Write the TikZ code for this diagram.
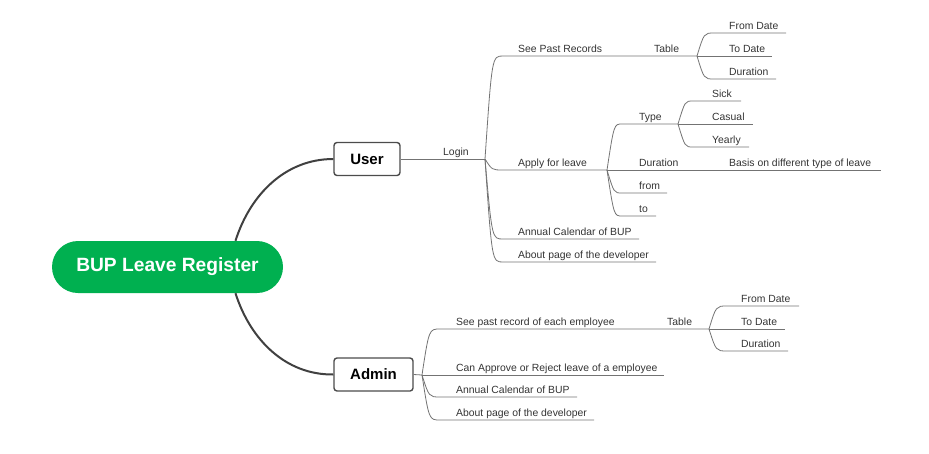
\documentclass[tikz,border=0pt]{standalone}
\usepackage{fontspec}
\setmainfont{Liberation Sans}
\usetikzlibrary{calc}

\definecolor{rootgreen}{RGB}{0,176,80}

\begin{document}
\begin{tikzpicture}[x=1pt,y=-1pt]
\tikzstyle{root}=[rectangle, rounded corners=26pt, fill=rootgreen, minimum width=231pt, minimum height=52pt, text=white, font=\fontsize{19.2}{22}\selectfont\bfseries]
\tikzstyle{topic}=[rectangle, rounded corners=3pt, draw=black!70, line width=1.4pt, fill=white, minimum height=33pt, font=\fontsize{15}{18}\selectfont\bfseries]
\tikzstyle{lbl}=[anchor=base west, inner sep=0pt, yshift=4pt, font=\fontsize{10.4}{12}\selectfont, text=black!80]
\tikzstyle{mainline}=[line width=2pt, draw=black!75]
\tikzstyle{twig}=[line width=0.8pt, draw=black!55]
\tikzstyle{twigcurve}=[to path={.. controls ($(\tikztostart |- \tikztotarget)+(7,0)$) .. (\tikztotarget)}]

  \useasboundingbox (0,0) rectangle (929,453);

  % main topics
  \node[root] (bup) at (167.5,267) {BUP Leave Register};
  \node[topic, minimum width=66pt] (user)  at (367,159)   {User};
  \node[topic, minimum width=79pt] (admin) at (373.5,374.5) {Admin};

  \draw[mainline] ([xshift=68pt]bup.north) .. controls (250,195) and (285,159) .. (user.west);
  \draw[mainline] ([xshift=68pt]bup.south) .. controls (250,339) and (285,375) .. (admin.west);

  % user branch
  \coordinate (ulog) at (485,159);
  \node[lbl] (tlogin) at (443,159) {Login};
  \draw[twig] (user.east) -- (ulog);

  \coordinate (sprs) at (503,56);
  \coordinate (ptab) at (697,56);
  \node[lbl] (tspr)  at (518,56) {See Past Records};
  \node[lbl] (tptab) at (654,56) {Table};
  \draw[twig] (ulog) to[twigcurve] (sprs) -- (ptab);

  \coordinate (pfds) at (714,33);  \coordinate (pfde) at (786,33);
  \coordinate (ptde) at (772,56);
  \coordinate (pdus) at (714,79);  \coordinate (pdue) at (776,79);
  \node[lbl] (tpfd) at (729,33) {From Date};
  \node[lbl] (tptd) at (729,56) {To Date};
  \node[lbl] (tpdu) at (729,79) {Duration};
  \draw[twig] (ptab) to[twigcurve] (pfds) -- (pfde);
  \draw[twig] (ptab) -- (ptde);
  \draw[twig] (ptab) to[twigcurve] (pdus) -- (pdue);

  \coordinate (apls) at (503,170);
  \coordinate (aply) at (607,170);
  \node[lbl] (tapl) at (518,170) {Apply for leave};
  \draw[twig] (ulog) to[twigcurve] (apls) -- (aply);

  \coordinate (typs) at (622,124);
  \coordinate (atyp) at (678,124);
  \node[lbl] (ttyp) at (639,124) {Type};
  \draw[twig] (aply) to[twigcurve] (typs) -- (atyp);

  \coordinate (sicks) at (693,101); \coordinate (sicke) at (741,101);
  \coordinate (casue) at (753,124);
  \coordinate (years) at (693,147); \coordinate (yeare) at (749,147);
  \node[lbl] (tsick) at (712,101) {Sick};
  \node[lbl] (tcasu) at (712,124) {Casual};
  \node[lbl] (tyear) at (712,147) {Yearly};
  \draw[twig] (atyp) to[twigcurve] (sicks) -- (sicke);
  \draw[twig] (atyp) -- (casue);
  \draw[twig] (atyp) to[twigcurve] (years) -- (yeare);

  \coordinate (dure) at (881,170);
  \node[lbl] (tdur)   at (639,170) {Duration};
  \node[lbl] (tbasis) at (729,170) {Basis on different type of leave};
  \draw[twig] (aply) -- (dure);

  \coordinate (froms) at (622,193); \coordinate (frome) at (667,193);
  \coordinate (tos)   at (622,216); \coordinate (toe)   at (656,216);
  \node[lbl] (tfrom) at (639,193) {from};
  \node[lbl] (tto)   at (639,216) {to};
  \draw[twig] (aply) to[twigcurve] (froms) -- (frome);
  \draw[twig] (aply) to[twigcurve] (tos) -- (toe);

  \coordinate (cals) at (503,239); \coordinate (cale) at (639,239);
  \coordinate (abts) at (503,262); \coordinate (abte) at (656,262);
  \node[lbl] (tcal) at (518,239) {Annual Calendar of BUP};
  \node[lbl] (tabt) at (518,262) {About page of the developer};
  \draw[twig] (ulog) to[twigcurve] (cals) -- (cale);
  \draw[twig] (ulog) to[twigcurve] (abts) -- (abte);

  % admin branch
  \coordinate (abr) at (422,375);
  \draw[twig] (admin.east) -- (abr);

  \coordinate (spes) at (440,329);
  \coordinate (etab) at (709,329);
  \node[lbl] (tspe)  at (456,329) {See past record of each employee};
  \node[lbl] (tetab) at (667,329) {Table};
  \draw[twig] (abr) to[twigcurve] (spes) -- (etab);

  \coordinate (efds) at (727,306); \coordinate (efde) at (799,306);
  \coordinate (etde) at (785,329);
  \coordinate (edus) at (727,351); \coordinate (edue) at (788,351);
  \node[lbl] (tefd) at (741,306) {From Date};
  \node[lbl] (tetd) at (741,329) {To Date};
  \node[lbl] (tedu) at (741,351) {Duration};
  \draw[twig] (etab) to[twigcurve] (efds) -- (efde);
  \draw[twig] (etab) -- (etde);
  \draw[twig] (etab) to[twigcurve] (edus) -- (edue);

  \coordinate (cane) at (664,375);
  \node[lbl] (tcan) at (456,375) {Can Approve or Reject leave of a employee};
  \draw[twig] (abr) -- (cane);

  \coordinate (acals) at (440,397); \coordinate (acale) at (577,397);
  \coordinate (aabts) at (440,420); \coordinate (aabte) at (594,420);
  \node[lbl] (tacal) at (456,397) {Annual Calendar of BUP};
  \node[lbl] (taabt) at (456,420) {About page of the developer};
  \draw[twig] (abr) to[twigcurve] (acals) -- (acale);
  \draw[twig] (abr) to[twigcurve] (aabts) -- (aabte);

\end{tikzpicture}
\end{document}
